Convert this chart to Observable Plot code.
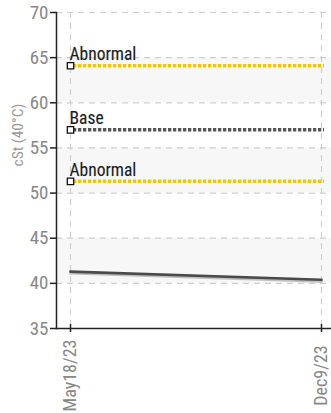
<!DOCTYPE html>
<html>
<head>
<meta charset="utf-8">
<script src="https://cdn.jsdelivr.net/npm/d3@7"></script>
<script src="https://cdn.jsdelivr.net/npm/@observablehq/plot@0.6"></script>
<style>
  html, body { margin: 0; padding: 0; background: #fff; }
  #chart svg { display: block; }
</style>
</head>
<body>
<div id="chart"></div>
<script>
const dates = ["2023-05-18", "2023-12-09"];
const dateLabels = ["May18/23", "Dec9/23"];
const viscosity = [41.3, 40.4];
const refNames = ["Abnormal", "Base", "Abnormal"];
const refValues = [64.1, 57.0, 51.3];
const refColors = ["#f5c400", "#555555", "#f5c400"];
const bandLows = [60, 50, 40];
const bandHighs = [65, 55, 45];
const yTicks = [35, 40, 45, 50, 55, 60, 65, 70];

const parse = d3.utcParse("%Y-%m-%d");
const xDates = dates.map(parse);
const series = xDates.map((d, i) => ({date: d, value: viscosity[i]}));
const refs = refNames.map((n, i) => ({name: n, value: refValues[i], color: refColors[i], x1: xDates[0], x2: xDates[1]}));
const bands = bandLows.map((lo, i) => ({y1: lo, y2: bandHighs[i]}));
const xLabels = xDates.map((d, i) => ({date: d, label: dateLabels[i]}));

const font = "'Liberation Sans Narrow', 'Roboto Condensed', Roboto, sans-serif";

const chart = Plot.plot({
  width: 331,
  height: 413,
  marginLeft: 56,
  marginRight: 0,
  marginTop: 12,
  marginBottom: 85,
  style: {fontFamily: font, background: "#fff", overflow: "visible"},
  x: {type: "utc", domain: [xDates[0], xDates[1]], range: [70, 321], axis: null},
  y: {type: "linear", domain: [35, 70], axis: null},
  marks: [
    Plot.rectY(bands, {y1: "y1", y2: "y2", fill: "#f7f7f7"}),
    Plot.ruleY(yTicks.slice(1), {stroke: "#cfcfcf", strokeDasharray: "6,5", strokeWidth: 1.2}),
    Plot.ruleX(xDates, {stroke: "#cfcfcf", strokeDasharray: "6,5", strokeWidth: 1.2}),
    Plot.ruleY(refs, {y: "value", x1: "x1", x2: "x2", stroke: "color", strokeWidth: 3.5, strokeDasharray: "3.3,1.7", dx: 3}),
    Plot.line(series, {x: "date", y: "value", stroke: "#999", strokeWidth: 3, strokeOpacity: 0.6, dy: 1.5}),
    Plot.line(series, {x: "date", y: "value", stroke: "#4a4a4a", strokeWidth: 2.6}),
    Plot.dot(refs, {x: "x1", y: "value", symbol: "square", r: 3.6, fill: "#fff", stroke: "#111", strokeWidth: 1.3}),
    Plot.text(refs, {x: "x1", y: "value", text: "name", textAnchor: "start", dy: -11, dx: -1, fill: "#1a1a1a", fontSize: 17.5, stroke: "#ddd", strokeWidth: 0.6}),
    Plot.frame({anchor: "left", stroke: "#222", strokeWidth: 1.5}),
    Plot.frame({anchor: "bottom", stroke: "#222", strokeWidth: 1.5}),
    Plot.axisY({ticks: yTicks, tickSize: 6, tickPadding: 2, fontSize: 19, color: "#888", stroke: "#222", strokeWidth: 1.5, label: null, tickFormat: d => d}),
    Plot.ruleX(xDates, {y1: 35, y2: 35, insetTop: -4, insetBottom: -4, stroke: "#222", strokeWidth: 1.5}),
    Plot.text(xLabels, {x: "date", text: "label", frameAnchor: "bottom", dy: 47, rotate: -90, textAnchor: "middle", lineAnchor: "middle", fontSize: 18, fill: "#888"}),
    Plot.text(["cSt (40°C)"], {frameAnchor: "left", dx: -38, dy: -4, rotate: -90, fontSize: 15.5, fill: "#999", text: d => d})
  ]
});
document.getElementById("chart").appendChild(chart);
</script>
</body>
</html>
